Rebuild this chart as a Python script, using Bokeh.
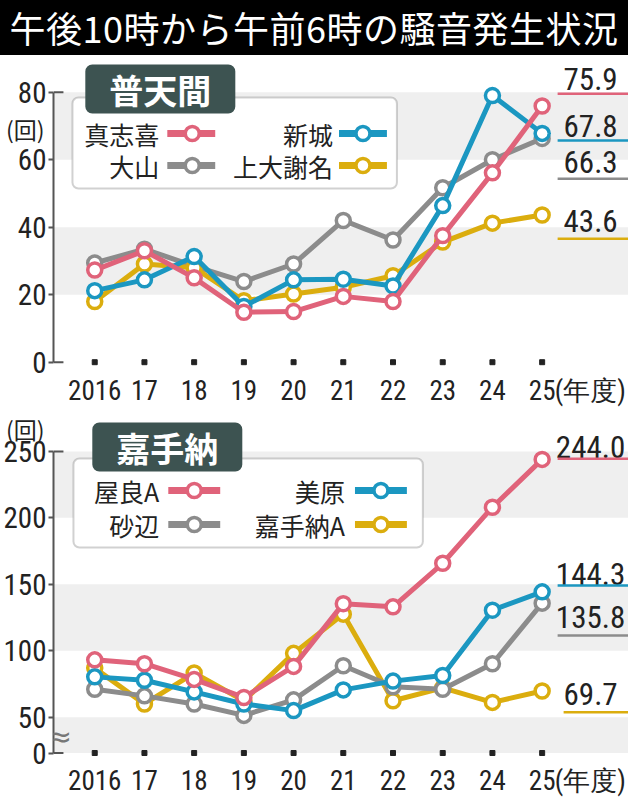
from bokeh.plotting import figure
from bokeh.models import Range1d, BoxAnnotation, Label, FixedTicker, Div, LinearAxis
from bokeh.layouts import column
from bokeh.core.properties import value
from bokeh.embed import file_html
from bokeh.resources import INLINE

FONT = "Noto Sans CJK JP"
NUM_FONT = "Roboto Condensed"

# data
years = [2016, 2017, 2018, 2019, 2020, 2021, 2022, 2023, 2024, 2025]
year_labels = ["2016", "17", "18", "19", "20", "21", "22", "23", "24", "25"]

# 普天間
makiyoshi = [27.3, 33.0, 25.0, 14.8, 15.0, 19.5, 18.0, 37.5, 56.1, 75.9]
aragusuku = [21.2, 24.4, 31.3, 16.5, 24.4, 24.6, 22.6, 46.4, 79.0, 67.8]
oyama = [29.4, 33.5, 28.5, 23.9, 29.1, 42.0, 36.2, 51.7, 60.0, 66.3]
uejana = [18.0, 29.1, 28.0, 18.2, 20.2, 22.2, 25.6, 35.6, 41.2, 43.6]
top_ticks = [0, 20, 40, 60, 80]

# 嘉手納
yara = [93.1, 90.2, 78.4, 64.8, 88.2, 135.4, 133.0, 165.8, 208.0, 244.0]
mihara = [80.3, 77.8, 69.0, 59.9, 54.9, 70.5, 77.1, 81.3, 130.5, 144.3]
sunabe = [71.0, 66.0, 59.9, 51.3, 63.0, 88.7, 72.9, 71.0, 90.2, 135.8]
kadena = [86.9, 59.9, 83.2, 62.3, 98.0, 127.5, 62.3, 72.0, 61.1, 69.7]
bottom_ticks = [0, 50, 100, 150, 200, 250]

PINK = "#e0637a"
BLUE = "#1b97c1"
GRAY = "#8c8c8c"
YELLOW = "#dbad0e"
INK = "#222222"

# pixel helpers (layout only)
def xd(px):
    return 2016 + (px - 93.3) / 49.8

def yt(py):
    return (361.7 - py) / 3.375

Z0 = 23  # where the broken axis puts its "0"

def yb(py):
    return Z0 + (752.5 - py) / 1.3286

NENDO = round(xd(590), 2)  # where "(年度)" sits on the x axis


def base_fig(height, y_range, ticks, labels, bounds, zero, unit_y, unit_standoff):
    p = figure(width=628, height=height, x_range=Range1d(xd(52), xd(628)),
               y_range=y_range, output_backend="svg", toolbar_location=None,
               min_border_left=52, min_border_right=0, min_border_top=3 if zero == 0 else 4,
               min_border_bottom=44)
    p.grid.visible = False
    p.outline_line_color = None

    xa = p.xaxis[0]
    xa.ticker = FixedTicker(ticks=years + [NENDO])
    xa.major_label_overrides = {**dict(zip(years, year_labels)), NENDO: "(年度)"}
    xa.axis_line_color = None
    xa.major_tick_line_color = None
    xa.minor_tick_line_color = None
    xa.major_label_standoff = 2
    xa.major_label_text_font = NUM_FONT
    xa.major_label_text_font_size = "27px"
    xa.major_label_text_color = INK
    # the year dots
    p.scatter(years, [zero] * len(years), marker="square", size=5, color=INK)

    ya = p.yaxis[0]
    ya.ticker = FixedTicker(ticks=ticks)
    ya.major_label_overrides = dict(zip(ticks, labels))
    ya.bounds = bounds
    ya.axis_line_color = "#555555"
    ya.axis_line_width = 2
    ya.major_tick_line_color = "#555555"
    ya.major_tick_line_width = 2
    ya.major_tick_out = 5
    ya.major_tick_in = 0
    ya.minor_tick_line_color = None
    ya.major_label_standoff = 2
    ya.major_label_text_font = NUM_FONT
    ya.major_label_text_font_size = "29px"
    ya.major_label_text_color = INK
    unit = LinearAxis(ticker=FixedTicker(ticks=[unit_y]), major_label_overrides={unit_y: "(回)"},
                      axis_line_color=None, major_tick_line_color=None,
                      minor_tick_line_color=None, major_tick_out=0, major_tick_in=0,
                      major_label_standoff=unit_standoff,
                      major_label_text_font=FONT, major_label_text_font_size="23px",
                      major_label_text_color=INK)
    p.add_layout(unit, "left")

    # little end stubs of the y axis
    xs = xd(52)
    p.segment(x0=[xs, xs], y0=list(bounds), x1=[xs + 0.2, xs + 0.2], y1=list(bounds),
              line_color="#555555", line_width=2)
    return p


def bands(p, pairs):
    for b, t in pairs:
        p.add_layout(BoxAnnotation(bottom=b, top=t, fill_color="#efefef", fill_alpha=1,
                                   line_color=None, level="underlay"))


def draw_series(p, series):
    for vals, color in series:
        p.line(years, vals, line_color=color, line_width=5)
        p.scatter(years, vals, size=14, fill_color="white", line_color=color, line_width=3.5)


def legend(p, ymap, box, tag, tag_text, rows, cols, entries):
    left, right, top, bottom = box
    p.add_layout(BoxAnnotation(left=xd(left), right=xd(right), top=ymap(top), bottom=ymap(bottom),
                               fill_color="white", fill_alpha=1, line_color="#666666",
                               line_width=2, border_radius=6))
    p.add_layout(Label(x=xd(tag[0]), y=ymap(tag[1]), text=tag_text, text_align="center",
                       text_baseline="middle", text_font=FONT, text_font_size="34px",
                       text_font_style="bold", text_color="white",
                       background_fill_color="#3d5351", background_fill_alpha=1,
                       padding=dict(left=24, right=24, top=0, bottom=0), border_radius=7))
    for (name, color), (r, c) in zip(entries, [(0, 0), (0, 1), (1, 0), (1, 1)]):
        text_r, l0, l1, cx = cols[c]
        y = ymap(rows[r])
        p.text(x=[xd(text_r)], y=[y], text=[name], text_align="right", text_baseline="middle",
               text_font=value(FONT), text_font_size="25px", text_color=INK, level="overlay")
        p.segment(x0=[xd(l0)], y0=[y], x1=[xd(l1)], y1=[y], line_color=color, line_width=7,
                  level="overlay")
        p.scatter(x=[xd(cx)], y=[y], size=14, fill_color="white", line_color=color,
                  line_width=3.5, level="overlay")


def end_values(p, ymap, series, text_px, line_px, line_start):
    ys = [ymap(v) for v in text_px]
    p.text(x=[xd(590)] * len(series), y=ys, text=[f"{vals[-1]:.1f}" for vals, _ in series],
           text_align="center", text_baseline="middle", text_font=value(NUM_FONT),
           text_font_size="31px", text_color=INK)
    p.segment(x0=[xd(s) for s in line_start], y0=[ymap(v) for v in line_px],
              x1=[xd(640)] * len(series), y1=[ymap(v) for v in line_px],
              line_color=[c for _, c in series], line_width=2.5)


# ---- top chart: 普天間
p1 = base_fig(355, Range1d(yt(366), yt(58)), top_ticks, [str(t) for t in top_ticks],
              (0, 80), 0, 69, -30)
bands(p1, [(20, 40), (60, 80)])
draw_series(p1, [(oyama, GRAY), (uejana, YELLOW), (aragusuku, BLUE), (makiyoshi, PINK)])
legend(p1, yt, (71, 396, 97, 188), (159, 88.5), "普天間", [133, 165],
       [(158, 166, 214, 191), (332, 338, 386, 362)],
       [("真志喜", PINK), ("新城", BLUE), ("大山", GRAY), ("上大謝名", YELLOW)])
end_values(p1, yt, [(makiyoshi, PINK), (aragusuku, BLUE), (oyama, GRAY), (uejana, YELLOW)],
           [78.3, 125, 161.7, 220], [93.3, 140, 178.3, 238.3], [557, 557, 557, 557])

# ---- bottom chart: 嘉手納 (axis broken between 0 and 50)
p2 = base_fig(390, Range1d(yb(756), yb(414)), [Z0] + bottom_ticks[1:],
              [str(t) for t in bottom_ticks], (Z0, 250), Z0, 269, -44)
bands(p2, [(Z0, 50), (100, 150), (200, 250)])
draw_series(p2, [(kadena, YELLOW), (sunabe, GRAY), (mihara, BLUE), (yara, PINK)])
legend(p2, yb, (72, 422, 458, 547), (166, 446.5), "嘉手納", [490, 524],
       [(158, 167, 219, 193), (344, 354, 406, 380)],
       [("屋良A", PINK), ("美原", BLUE), ("砂辺", GRAY), ("嘉手納A", YELLOW)])
end_values(p2, yb, [(yara, PINK), (mihara, BLUE), (sunabe, GRAY), (kadena, YELLOW)],
           [446.7, 573.3, 616.7, 693.3], [458.3, 585, 635, 711.7], [557, 557, 557, 563])
p2.add_layout(Label(x=xd(58), y=yb(736), text="≈", text_align="center", text_baseline="middle",
                    text_font="DejaVu Sans", text_font_size="30px", text_color="#777777"))

title = Div(text='<div style="background:#000;color:#fff;font-family:\'Noto Sans CJK JP\';'
                 'font-size:36px;line-height:55px;height:55px;width:628px;text-align:center;'
                 'white-space:nowrap;letter-spacing:0.5px;">午後10時から午前6時の騒音発生状況</div>',
            width=628, height=55, margin=0)

page = column(title, p1, p2, spacing=0)
open("out.html", "w").write(file_html(page, INLINE))
